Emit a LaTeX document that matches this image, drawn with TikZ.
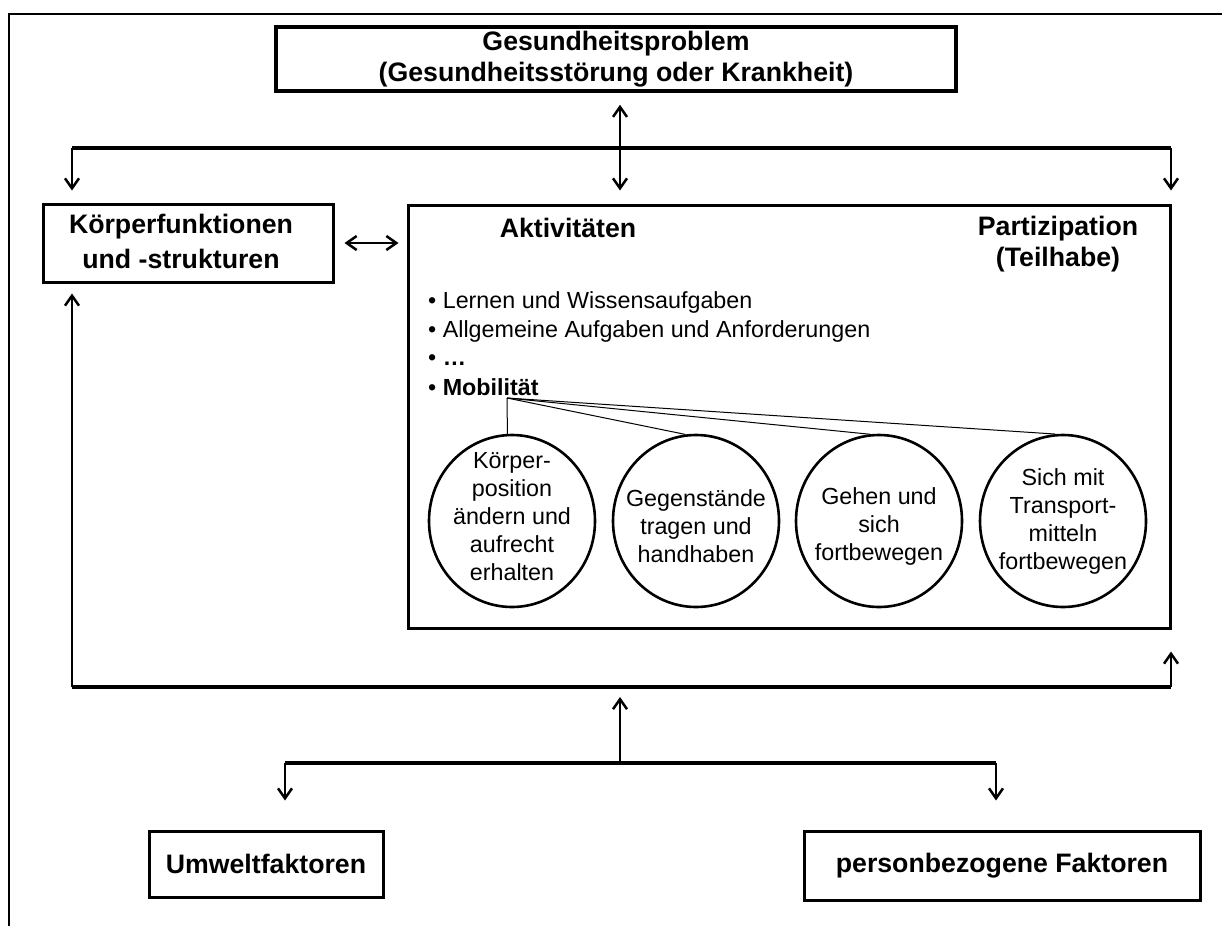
\documentclass[tikz,border=0pt]{standalone}
\usepackage{fontspec}
\setmainfont{Liberation Sans}
\usetikzlibrary{arrows.meta,shapes.geometric,calc}
\begin{document}
\begin{tikzpicture}[x=1pt,y=-1pt,
  >={Straight Barb[length=10pt,width=14pt]},
  boxline/.style={draw,line width=3pt},
  head/.style={font=\fontsize{26.7}{31}\selectfont\bfseries, align=center, inner sep=0pt},
  body/.style={font=\fontsize{23.3}{28}\selectfont, align=left, inner sep=0pt},
  oval/.style={ellipse, draw, line width=2.6pt, minimum width=166pt, minimum height=172pt, inner sep=0pt},
  ovaltext/.style={align=center, inner sep=0pt, font=\fontsize{23.3}{28}\selectfont},
  conn/.style={line width=2.5pt},
  bus/.style={line width=3.5pt},
  fan/.style={line width=1pt},
]
\useasboundingbox (0,0) rectangle (1222,926);
\draw[line width=2pt] (9,926) -- (9,14) -- (1222,14);

% boxes
\node[boxline, line width=3.5pt, head, minimum width=680pt, minimum height=64pt] (top) at (616,59)
  {Gesundheitsproblem\\(Gesundheitsstörung oder Krankheit)};
\node[boxline, minimum width=290pt, minimum height=78pt] (koerper) at (188,243) {};
\node[head, font=\fontsize{26.7}{35}\selectfont\bfseries] (koerpertxt) at (181,241) {Körperfunktionen\\und -strukturen};
\node[boxline, minimum width=762pt, minimum height=423pt] (big) at (789,416.5) {};
\node[head] (akt) at (568,228) {Aktivitäten};
\node[head] (part) at (1058,244) {Partizipation\\(Teilhabe)};

\node[body, anchor=west] (b1) at (428,302) {• Lernen und Wissensaufgaben};
\node[body, anchor=west] (b2) at (428,331) {• Allgemeine Aufgaben und Anforderungen};
\node[body, anchor=west] (b3) at (428,360) {• \textbf{…}};
\node[body, anchor=west] (b4) at (428,387) {• \textbf{Mobilität}};
\coordinate (m) at (507,398);

\node[oval] (e1) at (512,521) {};
\node[oval] (e2) at (696,521) {};
\node[oval] (e3) at (879,521) {};
\node[oval] (e4) at (1063,521) {};
\node[ovaltext] (t1) at (512,517) {Körper-\\position\\ändern und\\aufrecht\\erhalten};
\node[ovaltext] (t2) at (696,526) {Gegenstände\\tragen und\\handhaben};
\node[ovaltext] (t3) at (879,526) {Gehen und\\sich\\fortbewegen};
\node[ovaltext] (t4) at (1063,521) {Sich mit\\Transport-\\mitteln\\fortbewegen};

\draw[fan] (m) -- (e1.93);
\draw[fan] (m) -- (e2.97);
\draw[fan] (m) -- (e3.96);
\draw[fan] (m) -- (e4.95);

\node[boxline, head, minimum width=234pt, minimum height=66pt] (umwelt) at (266,864) {Umweltfaktoren};
\node[boxline, head, minimum width=396pt, minimum height=69pt] (person) at (1002,865.5) {personbezogene Faktoren};

% upper bus
\coordinate (L1) at (72,148);
\coordinate (R1) at (1171,148);
\coordinate (C1) at (620,148);
\draw[bus] (L1) -- (R1);
\draw[conn,->,shorten >=12pt] (L1) -- (L1 |- koerper.north);
\draw[conn,->,shorten >=13pt] (R1) -- (R1 |- big.north);
\draw[conn,<->,shorten <=12pt,shorten >=13pt] (top.south -| C1) -- (C1 |- big.north);
\draw[conn,<->,shorten <=10pt,shorten >=8pt] (koerper.east) -- (big.west |- koerper.east);

% lower bus
\coordinate (L2) at (72,687);
\coordinate (R2) at (1171,687);
\coordinate (C3) at (620,763);
\coordinate (U) at (285,763);
\coordinate (P) at (996,763);
\draw[bus] (L2) -- (R2);
\draw[conn,->,shorten >=10pt] (L2) -- (L2 |- koerper.south);
\draw[conn,->,shorten >=22pt] (R2) -- (R2 |- big.south);
\draw[conn,->,shorten >=10pt] (C3) -- (C3 |- L2);
\draw[bus] (U) -- (P);
\draw[conn,->,shorten >=29pt] (U) -- (U |- umwelt.north);
\draw[conn,->,shorten >=29pt] (P) -- (P |- person.north);
\end{tikzpicture}
\end{document}
